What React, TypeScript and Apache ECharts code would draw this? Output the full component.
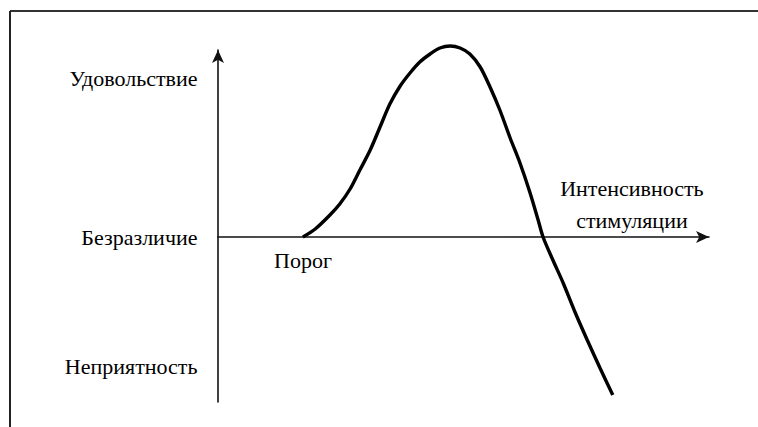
import React, { useEffect, useRef } from "react";
import * as echarts from "echarts";

// Curve: intensity of stimulation (x) vs. hedonic tone (y)
const intensity = [17.3, 19.8, 22.8, 24.8, 26.9, 28.9, 31.0, 33.0, 35.0, 37.1, 39.1, 41.1, 43.2, 45.2, 47.3, 49.3, 51.3, 53.4, 55.4, 57.4, 59.5, 61.5, 63.5, 65.2, 66.2, 68.2, 70.3, 72.7, 75.2, 77.8, 80.4];
const hedonic = [0, 0.08, 0.22, 0.33, 0.48, 0.67, 0.87, 1.1, 1.33, 1.51, 1.64, 1.75, 1.83, 1.89, 1.91, 1.89, 1.83, 1.7, 1.5, 1.27, 0.99, 0.74, 0.45, 0.17, 0, -0.23, -0.46, -0.75, -1.03, -1.31, -1.58];

// Y axis labels (value positions and names)
const yLabelValues = [1.59, 0, -1.29];
const yLabelNames = ["Удовольствие", "Безразличие", "Неприятность"];

// Threshold marker on the x axis
const thresholdPoint = [17.3, 0];
const thresholdName = "Порог";
// X axis title, anchored above the axis
const xNamePoint = [84.3, 0];
const xAxisName = "Интенсивность\nстимуляции";

const FONT = "Liberation Serif";
const FS = 22;

export default function App() {
  const ref = useRef<HTMLDivElement>(null);

  useEffect(() => {
    if (!ref.current) return;
    const chart = echarts.init(ref.current, null, { renderer: "svg" });
    const data = intensity.map((x, i) => [x, hedonic[i]]);
    const labelStyle = { color: "#000", fontFamily: FONT, fontSize: FS, opacity: 1 };
    chart.setOption({
      animation: false,
      backgroundColor: "#ffffff",
      textStyle: { fontFamily: FONT },
      grid: { left: 218, right: 49, top: 50, bottom: 25, containLabel: false },
      xAxis: {
        type: "value",
        min: 0,
        max: 100,
        splitLine: { show: false },
        axisTick: { show: false },
        axisLabel: { show: false },
        axisLine: {
          onZero: true,
          lineStyle: { color: "#111", width: 1.6 },
          symbol: ["none", "arrow"],
          symbolSize: [9, 13],
        },
      },
      yAxis: {
        type: "value",
        min: -1.65,
        max: 1.87,
        splitLine: { show: false },
        axisTick: { show: false },
        axisLabel: { show: false },
        axisLine: {
          show: true,
          onZero: false,
          lineStyle: { color: "#111", width: 1.6 },
          symbol: ["none", "arrow"],
          symbolSize: [9, 13],
        },
      },
      graphic: [
        {
          type: "line",
          shape: { x1: 10, y1: 11, x2: 758, y2: 11 },
          style: { stroke: "#333", lineWidth: 2 },
        },
        {
          type: "line",
          shape: { x1: 10, y1: 11, x2: 10, y2: 427 },
          style: { stroke: "#222", lineWidth: 2 },
        },
      ],
      series: [
        {
          type: "line",
          data,
          smooth: 0.3,
          showSymbol: false,
          clip: false,
          lineStyle: { color: "#000", width: 3.4 },
        },
        {
          type: "scatter",
          data: yLabelValues.map((v, i) => ({ value: [0, v], name: yLabelNames[i] })),
          symbolSize: 1,
          itemStyle: { color: "rgba(0,0,0,0)" },
          silent: true,
          label: {
            show: true,
            position: "left",
            distance: 20,
            formatter: (p: any) => p.name,
            ...labelStyle,
          },
        },
        {
          type: "scatter",
          data: [thresholdPoint],
          symbolSize: 1,
          itemStyle: { color: "rgba(0,0,0,0)" },
          silent: true,
          label: {
            show: true,
            position: "bottom",
            distance: 12,
            formatter: () => thresholdName,
            ...labelStyle,
          },
        },
        {
          type: "scatter",
          data: [xNamePoint],
          symbolSize: 1,
          itemStyle: { color: "rgba(0,0,0,0)" },
          silent: true,
          label: {
            show: true,
            position: "top",
            distance: 0,
            lineHeight: 32,
            align: "center",
            formatter: () => xAxisName,
            ...labelStyle,
          },
        },
      ],
    });
    return () => chart.dispose();
  }, []);

  return (
    <div
      ref={ref}
      style={{ position: "fixed", left: 0, top: 0, width: 758, height: 427, background: "#fff" }}
    />
  );
}
